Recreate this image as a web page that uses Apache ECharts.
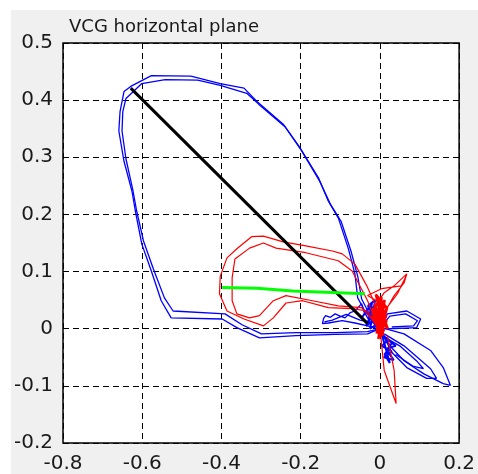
<!DOCTYPE html>
<html>
<head>
<meta charset="utf-8">
<title>VCG horizontal plane</title>
<script src="https://cdn.jsdelivr.net/npm/echarts@6/dist/echarts.min.js"></script>
<style>
  body { margin: 0; background: #fff; }
  #fig { position: absolute; left: 11px; top: 10px; right: 0; bottom: 0; background: #f0f0f0; }
  #chart { position: absolute; left: 0; top: 0; width: 478px; height: 474px; }
</style>
</head>
<body>
<div id="fig"></div>
<div id="chart"></div>
<script>
// axis ranges
var xRange = [-0.8, 0.2];
var yRange = [-0.2, 0.5];

// QRS loop, two beats (blue)
var blueBeat1 = [[0,0],[-0.031,-0.009],[-0.113,-0.010],[-0.212,-0.012],[-0.304,-0.016],[-0.361,0.002],[-0.398,0.017],
  [-0.527,0.019],[-0.552,0.049],[-0.577,0.101],[-0.601,0.148],[-0.616,0.201],[-0.626,0.241],[-0.646,0.293],
  [-0.659,0.346],[-0.656,0.380],[-0.646,0.415],[-0.629,0.424],[-0.577,0.443],[-0.477,0.442],[-0.403,0.429],
  [-0.343,0.421],[-0.311,0.398],[-0.244,0.358],[-0.204,0.319],[-0.155,0.264],[-0.130,0.223],[-0.105,0.194],
  [-0.080,0.141],[-0.063,0.096],[-0.056,0.054],[-0.038,0.031],[0,0]];
var blueBeat2 = [[0,0],[-0.031,-0.005],[-0.113,-0.007],[-0.212,-0.007],[-0.299,-0.009],[-0.348,0.007],[-0.391,0.026],
  [-0.522,0.031],[-0.544,0.054],[-0.572,0.105],[-0.597,0.154],[-0.614,0.206],[-0.624,0.244],[-0.641,0.297],
  [-0.651,0.346],[-0.649,0.380],[-0.641,0.403],[-0.601,0.429],[-0.542,0.436],[-0.460,0.435],[-0.403,0.426],
  [-0.336,0.412],[-0.306,0.393],[-0.239,0.353],[-0.200,0.314],[-0.152,0.258],[-0.125,0.218],[-0.098,0.188],
  [-0.073,0.136],[-0.056,0.092],[-0.046,0.052],[-0.028,0.028],[0,0]];
// small blue loops around the origin
var blueLeft = [[-0.005,0],[-0.031,0.005],[-0.063,0.010],[-0.095,0.014],[-0.130,0.010],[-0.145,0.009],[-0.142,0.018],
  [-0.137,0.023],[-0.125,0.020],[-0.113,0.026],[-0.100,0.022],[-0.088,0.019],[-0.075,0.028],[-0.063,0.031],
  [-0.046,0.044],[-0.040,0.030],[-0.031,0.019],[-0.010,0.010],[-0.050,0.015],[-0.085,0.025],[-0.120,0.015],
  [-0.140,0.012]];
var blueRight = [[0,0],[0.019,0.026],[0.068,0.031],[0.103,0.017],[0.093,0.002],[0.036,0],[0,0],
  [0.025,0.022],[0.065,0.026],[0.095,0.014],[0.085,0.005],[0.030,0.003]];
var blueDown1 = [[0.004,0.002],[0.061,-0.009],[0.128,-0.038],[0.160,-0.068],[0.178,-0.099],[0.160,-0.096],
  [0.111,-0.079],[0.061,-0.056],[0.029,-0.033],[0.006,-0.009]];
var blueDown2 = [[0.011,-0.009],[0.061,-0.030],[0.128,-0.070],[0.143,-0.087],[0.118,-0.087],[0.068,-0.068],
  [0.031,-0.042],[0.010,-0.014],[0.050,-0.030],[0.095,-0.058],[0.110,-0.070],[0.085,-0.066],[0.040,-0.045]];
var blueCore = [[-0.045,0.020],[-0.020,0.045],[-0.030,0.010],[-0.010,0.040],[-0.040,0.030],[-0.005,0.020],
  [-0.035,0.005],[-0.015,0.030],[-0.025,0],[-0.002,0.010],[-0.030,0.040],[-0.012,0.050],[-0.020,0.015],
  [0,-0.005],[0.020,-0.020],[0.005,-0.030],[0.030,-0.040],[0.010,-0.050],[0.035,-0.055],[0.015,-0.035],
  [0.040,-0.030],[0.005,-0.010],[0.025,-0.060],[0.012,-0.045],[0.030,-0.025]];

// T loop, two beats (red)
var redBeat1 = [[-0.006,0.002],[-0.013,0.044],[-0.033,0.075],[-0.063,0.113],[-0.095,0.131],[-0.120,0.136],
  [-0.187,0.145],[-0.244,0.152],[-0.294,0.162],[-0.324,0.161],[-0.361,0.140],[-0.386,0.124],[-0.403,0.092],
  [-0.405,0.061],[-0.386,0.031],[-0.343,0.017],[-0.294,0.005],[-0.269,0.019],[-0.237,0.045],[-0.195,0.049],
  [-0.130,0.037],[-0.070,0.035],[-0.031,0.031],[-0.006,0.005]];
var redBeat2 = [[-0.006,0.005],[-0.031,0.049],[-0.070,0.101],[-0.105,0.119],[-0.187,0.133],[-0.262,0.141],
  [-0.294,0.150],[-0.329,0.141],[-0.366,0.122],[-0.373,0.089],[-0.373,0.049],[-0.361,0.026],[-0.329,0.019],
  [-0.304,0.023],[-0.269,0.049],[-0.237,0.058],[-0.170,0.049],[-0.105,0.040],[-0.046,0.037],[-0.002,0.002]];
var redUp = [[-0.008,0.044],[0.011,0.063],[0.036,0.075],[0.068,0.096],[0.061,0.080],[0.036,0.058],[0.019,0.037],
  [-0.031,0.058],[0.004,0.070],[0.054,0.075],[0.066,0.092],[0.045,0.062],[0.010,0.030]];
var redSpike = [[0.001,-0.004],[0.011,-0.073],[0.041,-0.131],[0.036,-0.073],[0.019,-0.012]];
var redCore = [[-0.005,0],[0.005,0.045],[-0.010,0.005],[0.012,0.040],[-0.015,0.010],[0.015,0.030],[-0.020,0.020],
  [0.018,0.012],[-0.012,0.035],[0.010,-0.005],[-0.005,0.048],[0.020,0],[-0.018,0.028],[0.008,-0.012],
  [0,0.050],[-0.008,-0.008],[0.016,0.022],[-0.020,0.030],[0.004,0.055],[0.002,-0.015],[-0.014,0.042],
  [0.014,0.005],[-0.016,0.015],[0.012,0.050],[-0.004,-0.018],[0.018,0.036],[-0.010,0.060],[0.006,0.010]];

// loop axes
var qrsAxis = [[-0.031,0.009],[-0.629,0.421]];
var tAxis = [[-0.398,0.072],[-0.310,0.071],[-0.305,0.068],[-0.220,0.066],[-0.215,0.063],[-0.038,0.061]];

var line = function(data, color, width) {
  return {
    type: 'line', data: data, showSymbol: false, silent: true,
    lineStyle: { color: color, width: width }
  };
};

var chart = echarts.init(document.getElementById('chart'));
var labelFont = { fontFamily: 'DejaVu Sans', fontSize: 20, color: '#1a1a1a' };
var grid = { type: [6, 4], color: '#000', width: 1 };
chart.setOption({
  animation: false,
  backgroundColor: 'transparent',
  title: {
    text: 'VCG horizontal plane', left: 64, top: 13,
    textStyle: { fontFamily: 'DejaVu Sans', fontSize: 18, fontWeight: 'normal', color: '#1a1a1a' }
  },
  grid: {
    left: 63, top: 43, width: 403, height: 401,
    show: true, backgroundColor: '#fff', borderColor: '#000', borderWidth: 1.5
  },
  xAxis: {
    type: 'value', min: xRange[0], max: xRange[1], interval: 0.2,
    axisLine: { show: false }, axisTick: { show: false },
    axisLabel: Object.assign({ margin: 11 }, labelFont),
    splitLine: { show: true, lineStyle: grid }
  },
  yAxis: {
    type: 'value', min: yRange[0], max: yRange[1], interval: 0.1,
    axisLine: { show: false }, axisTick: { show: false },
    axisLabel: Object.assign({ margin: 10 }, labelFont),
    splitLine: { show: true, lineStyle: grid }
  },
  series: [
    line(blueBeat1, '#0000ff', 1.3),
    line(blueBeat2, '#0000ff', 1.3),
    line(blueLeft, '#0000ff', 1.3),
    line(blueRight, '#0000ff', 1.3),
    line(blueDown1, '#0000ff', 1.3),
    line(blueDown2, '#0000ff', 1.3),
    line(blueCore, '#0000ff', 2),
    line(redBeat1, '#ff0000', 1.2),
    line(redBeat2, '#ff0000', 1.2),
    line(redUp, '#ff0000', 1.2),
    line(redSpike, '#ff0000', 1.2),
    line(redCore, '#ff0000', 2.5),
    line(qrsAxis, '#000000', 3),
    line(tAxis, '#00ff00', 3)
  ]
});
</script>
</body>
</html>
